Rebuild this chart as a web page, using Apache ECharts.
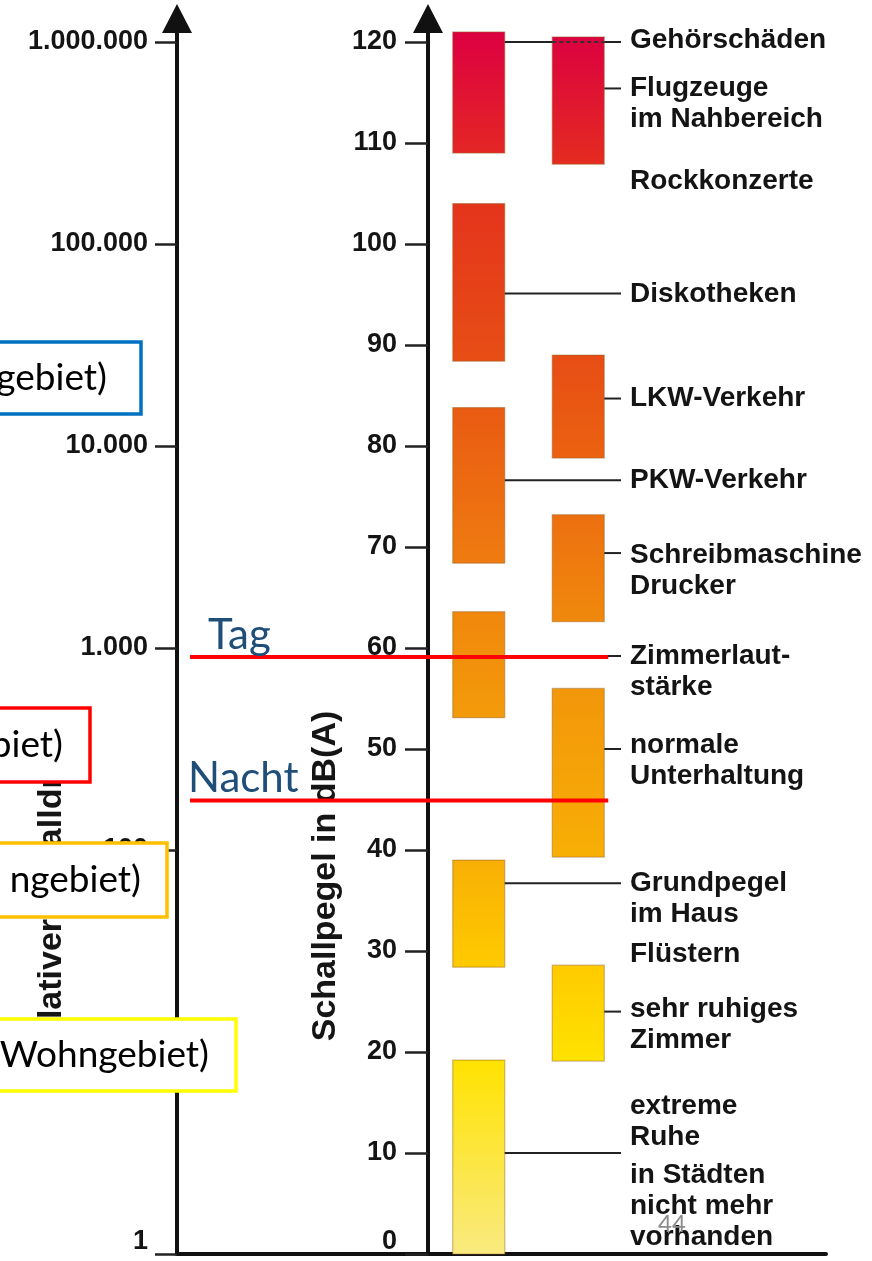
<!DOCTYPE html>
<html><head><meta charset="utf-8">
<script src="https://cdn.jsdelivr.net/npm/echarts@6/dist/echarts.min.js"></script>
<style>html,body{margin:0;padding:0;background:#fff}#c{width:872px;height:1261px}</style>
</head><body><div id="c"></div>
<script>
// ---------------- data ----------------
const columnNames = ['Spalte 1', 'Spalte 2', 'Beschriftung', 'Rand'];
const col1Low  = [109, 88.4, 68.4, 53.1, 28.4, 0];
const col1High = [121, 104, 83.8, 63.6, 39, 19.2];
const col2Low  = [107.9, 78.8, 62.6, 39.3, 19.1];
const col2High = [120.5, 89, 73.2, 56, 28.6];
const labelTexts = ['Gehörschäden', 'Flugzeuge\nim Nahbereich', 'Rockkonzerte', 'Diskotheken',
  'LKW-Verkehr', 'PKW-Verkehr', 'Schreibmaschine\nDrucker', 'Zimmerlaut-\nstärke',
  'normale\nUnterhaltung', 'Grundpegel\nim Haus', 'Flüstern', 'sehr ruhiges\nZimmer',
  'extreme\nRuhe', 'in Städten\nnicht mehr\nvorhanden'];
const labelDb = [120.2, 115.4, 106.2, 95, 84.7, 76.6, 69.2, 59.2, 50.4, 36.7, 29.7, 24.2, 14.6, 7.8];
const leaderColumn = [0, 1, 0, 1, 0, 1, 0, 1, 0, 1, 0];
const leaderDb = [120, 115.4, 95.1, 84.7, 76.6, 69.4, 59.2, 50, 36.7, 24, 10];
const limitNames = ['Tag', 'Nacht'];
const limitDb = [59.1, 44.9];
const zoneTexts = ['gebiet)', 'biet)', 'ngebiet)', 'Wohngebiet)'];
const dbAxisName = 'Schallpegel in dB(A)';
const pressureAxisName = 'relativer Schalldruck';
const pageNumber = '44';

// ---------------- layout / style ----------------
const L = { logAxisX: 177, dbAxisX: 428, right: 46, top: 42, bottom: 7 };
const FONT = "'Liberation Sans', Arial, Helvetica, sans-serif";
const SLIDE_FONT = "Lato, 'Open Sans', sans-serif";
const zoneBoxes = [
  { right: 141, top: 342, height: 72, textRight: 107, color: '#0070C0' },
  { right: 90,  top: 708, height: 74, textRight: 63,  color: '#FF0000' },
  { right: 167, top: 843, height: 74, textRight: 141, color: '#FFC000' },
  { right: 236, top: 1019, height: 72, textRight: 209, color: '#FFFF00' }
];
const limitLabelShift = [18, -2];
const colorStops = [[121,'#DC0041'],[114,'#E10937'],[108,'#E42C20'],[100,'#E43C18'],[90,'#E64A16'],
  [84,'#E95A12'],[76,'#EC670F'],[70,'#EF7811'],[63,'#F0880C'],[55,'#F2980A'],[46,'#F5A808'],
  [39,'#F8AF05'],[33,'#FCBF00'],[28,'#FFCC00'],[24,'#FFD800'],[19,'#FFE200'],[10,'#FFE816'],[0,'#F9EA80']];

function hex2rgb(h){return [parseInt(h.substr(1,2),16),parseInt(h.substr(3,2),16),parseInt(h.substr(5,2),16)];}
function dbColor(v){
  for (let i = 0; i < colorStops.length - 1; i++) {
    const a = colorStops[i], b = colorStops[i+1];
    if (v <= a[0] && v >= b[0]) {
      const t = (a[0] - v) / (a[0] - b[0]);
      const ca = hex2rgb(a[1]), cb = hex2rgb(b[1]);
      return 'rgb(' + ca.map((c, k) => Math.round(c + (cb[k] - c) * t)).join(',') + ')';
    }
  }
  return v > colorStops[0][0] ? colorStops[0][1] : colorStops[colorStops.length-1][1];
}
const BAR_RATIO = 0.523;
const arrowPath = 'path://M15,0 L30,29 L0,29 Z M13,29 L17,29 L17,38 L13,38 Z';

const barData = [];
col1Low.forEach((v, i) => barData.push([0, v, col1High[i]]));
col2Low.forEach((v, i) => barData.push([1, v, col2High[i]]));

function deFormat(v){ return String(Math.round(v)).replace(/\B(?=(\d{3})+(?!\d))/g, '.'); }
const tickLabelStyle = { fontSize: 27, fontWeight: 'bold', fontFamily: FONT, color: '#141414' };

const chart = echarts.init(document.getElementById('c'), null, { renderer: 'canvas' });

chart.setOption({
  backgroundColor: '#ffffff',
  animation: false,
  grid: [
    { left: L.logAxisX, right: L.right, top: L.top, bottom: L.bottom },
    { left: L.dbAxisX, right: L.right, top: L.top, bottom: L.bottom }
  ],
  xAxis: [
    { gridIndex: 0, type: 'value', min: 0, max: 1, axisLine: { show: true, onZero: false, lineStyle: { color: '#111', width: 4 } },
      axisTick: { show: false }, axisLabel: { show: false }, splitLine: { show: false } },
    { gridIndex: 1, type: 'category', data: columnNames, show: false }
  ],
  yAxis: [
    { gridIndex: 0, type: 'log', logBase: 10, min: 1, max: 1000000, position: 'left',
      axisLine: { show: true, lineStyle: { color: '#111', width: 4 }, symbol: ['none', arrowPath], symbolSize: [30, 38], symbolOffset: [0, 19] },
      axisTick: { show: true, length: 22, lineStyle: { color: '#222', width: 2.5 } },
      axisLabel: Object.assign({ margin: 29,
        formatter: v => Math.round(v) === 1 ? '{lo|1}' : deFormat(v),
        rich: { lo: Object.assign({ padding: [0, 0, 24, 0] }, tickLabelStyle) } }, tickLabelStyle),
      splitLine: { show: false } },
    { gridIndex: 1, type: 'value', min: 0, max: 120, interval: 10, position: 'left',
      axisLine: { show: true, lineStyle: { color: '#111', width: 4 }, symbol: ['none', arrowPath], symbolSize: [30, 38], symbolOffset: [0, 19] },
      axisTick: { show: true, length: 23, lineStyle: { color: '#222', width: 2.5 } },
      axisLabel: Object.assign({ margin: 31,
        formatter: v => v === 0 ? '{lo|0}' : String(v),
        rich: { lo: Object.assign({ padding: [0, 0, 24, 0] }, tickLabelStyle) } }, tickLabelStyle),
      splitLine: { show: false } }
  ],
  series: [
    { type: 'custom', name: 'Bereiche', xAxisIndex: 1, yAxisIndex: 1, clip: false, z: 3,
      encode: { x: 0, y: [1, 2] }, data: barData,
      renderItem: function (params, api) {
        const col = api.value(0), lo = api.value(1), hi = api.value(2);
        const pt = api.coord([col, hi]), pb = api.coord([col, lo]);
        const w = api.size([1, 0])[0] * BAR_RATIO;
        return { type: 'rect', shape: { x: pt[0] - w / 2 + 1, y: pt[1], width: w, height: pb[1] - pt[1] },
          style: { fill: new echarts.graphic.LinearGradient(0, 0, 0, 1, [{ offset: 0, color: dbColor(hi) }, { offset: 1, color: dbColor(lo) }]),
            stroke: 'rgba(150,100,40,0.45)', lineWidth: 1.2 } };
      } },
    { type: 'custom', name: 'Zuordnung', xAxisIndex: 1, yAxisIndex: 1, clip: false, z: 4,
      encode: { x: 0, y: 1 }, data: leaderColumn.map((c, i) => [c, leaderDb[i]]),
      renderItem: function (params, api) {
        const col = api.value(0), db = api.value(1);
        const band = api.size([1, 0])[0], w = band * BAR_RATIO;
        const p = api.coord([col, db]);
        const x0 = p[0] + w / 2 + 1, x1 = api.coord([2, db])[0] - band / 2 - 6, y = p[1];
        const st = { stroke: '#222', lineWidth: 2 };
        const children = [];
        let crossing = false;
        if (col === 0) col2Low.forEach((lo, k) => { if (db >= lo && db <= col2High[k]) crossing = true; });
        if (crossing) {
          const c2 = api.coord([1, db])[0] + 1;
          children.push({ type: 'line', shape: { x1: x0, y1: y, x2: c2 - w / 2, y2: y }, style: st });
          children.push({ type: 'line', shape: { x1: c2 - w / 2, y1: y, x2: c2 + w / 2, y2: y }, style: { stroke: '#333', lineWidth: 2, lineDash: [4, 3] } });
          children.push({ type: 'line', shape: { x1: c2 + w / 2, y1: y, x2: x1, y2: y }, style: st });
        } else {
          children.push({ type: 'line', shape: { x1: x0, y1: y, x2: x1, y2: y }, style: st });
        }
        return { type: 'group', children: children };
      } },
    { type: 'custom', name: 'Richtwerte', xAxisIndex: 1, yAxisIndex: 1, clip: false, z: 5,
      encode: { x: 0, y: 1 }, data: limitDb.map(v => [1, v]),
      renderItem: function (params, api) {
        const db = api.value(1), i = params.dataIndex;
        const band = api.size([1, 0])[0], w = band * BAR_RATIO;
        const p = api.coord([1, db]);
        const xs = params.coordSys.x - (L.dbAxisX - L.logAxisX) + 13;
        return { type: 'group', children: [
          { type: 'line', shape: { x1: xs, y1: p[1], x2: p[0] + w / 2 + 5, y2: p[1] }, style: { stroke: '#FF0000', lineWidth: 4 } },
          { type: 'text', x: xs + limitLabelShift[i], y: p[1] - 1,
            style: { text: limitNames[i], fontFamily: SLIDE_FONT, fontSize: 42, fill: '#1F4E79', align: 'left', verticalAlign: 'bottom' } }
        ] };
      } },
    { type: 'custom', name: 'Beschriftung', xAxisIndex: 1, yAxisIndex: 1, clip: false, z: 6,
      encode: { x: 0, y: 1 }, data: labelDb.map(v => [2, v]),
      renderItem: function (params, api) {
        const band = api.size([1, 0])[0];
        const p = api.coord([2, api.value(1)]);
        return { type: 'text', x: p[0] - band / 2 + 3, y: p[1] - 15.5,
          style: { text: labelTexts[params.dataIndex], fontFamily: FONT, fontWeight: 'bold', fontSize: 28,
            lineHeight: 31, fill: '#141414', align: 'left', verticalAlign: 'top' } };
      } }
  ],
  graphic: { elements: [
    { type: 'text', x: 52, y: 884, rotation: Math.PI / 2, z: 1,
      style: { text: pressureAxisName, fontFamily: FONT, fontWeight: 'bold', fontSize: 34, fill: '#151515', align: 'center', verticalAlign: 'middle' } },
    { type: 'text', x: 326, y: 876, rotation: Math.PI / 2, z: 1,
      style: { text: dbAxisName, fontFamily: FONT, fontWeight: 'bold', fontSize: 34, fill: '#151515', align: 'center', verticalAlign: 'middle' } },
    ...zoneBoxes.map((b, i) => ({ type: 'group', z: 50, children: [
      { type: 'rect', z: 50, shape: { x: -10, y: b.top, width: b.right + 10, height: b.height },
        style: { fill: '#ffffff', stroke: b.color, lineWidth: 3.5 } },
      { type: 'text', z: 51, x: b.textRight, y: b.top + b.height / 2,
        style: { text: zoneTexts[i], fontFamily: SLIDE_FONT, fontSize: 37, fill: '#000', align: 'right', verticalAlign: 'middle' } }
    ] })),
    { type: 'text', x: 672, y: 1224, z: 60,
      style: { text: pageNumber, fontFamily: SLIDE_FONT, fontSize: 24, fill: '#8c8c8c', align: 'center', verticalAlign: 'middle' } }
  ] }
});
</script></body></html>
